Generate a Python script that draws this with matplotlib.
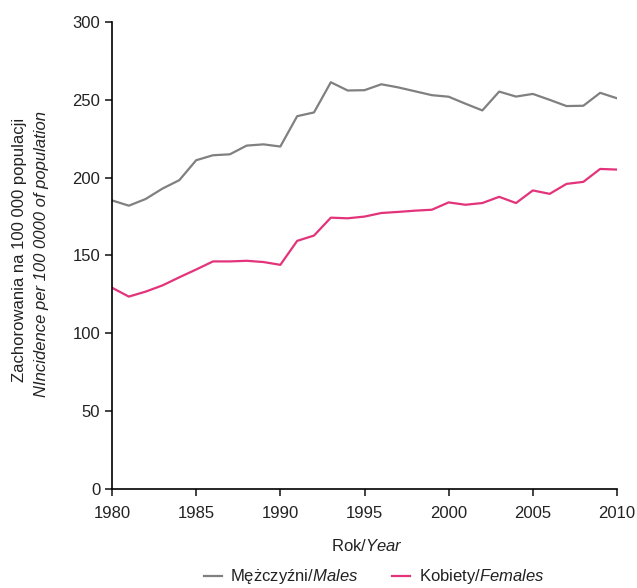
import numpy as np
from matplotlib import pyplot as plt
from matplotlib import rcParams

rcParams["font.family"] = ["Liberation Sans", "DejaVu Sans"]
rcParams["mathtext.fontset"] = "custom"
rcParams["mathtext.rm"] = "Liberation Sans"
rcParams["mathtext.it"] = "Liberation Sans:italic"
rcParams["font.size"] = 11

years = np.arange(1980, 2011)
males = [185.4, 182, 186.3, 193, 198.4, 211.2, 214.4, 215, 220.6, 221.4,
         220, 239.5, 241.9, 261.3, 256, 256.2, 260, 258, 255.5, 253,
         252, 247.5, 243.2, 255.3, 252.1, 253.8, 250, 246, 246.2, 254.5,
         251]
females = [129.3, 123.6, 126.8, 130.8, 136, 141, 146.2, 146.2, 146.6, 145.8,
           144, 159.4, 162.8, 174.3, 173.9, 175, 177.3, 178, 178.8, 179.4,
           184.1, 182.6, 183.7, 187.7, 183.7, 191.8, 189.6, 196, 197.3, 205.6,
           205.2]

fig = plt.figure(figsize=(6.37, 5.88), dpi=100)
ax = fig.add_axes([112 / 637, 1 - 489 / 588, 505 / 637, 467 / 588])

ax.plot(years, males, color="#808080", lw=1.6, label="Mężczyźni/$\\mathit{Males}$")
ax.plot(years, females, color="#e3337a", lw=1.6, label="Kobiety/$\\mathit{Females}$")

ax.set_xlim(1980, 2010)
ax.set_ylim(0, 300)
ax.set_xticks(np.arange(1980, 2011, 5))
ax.set_yticks(np.arange(0, 301, 50))
ax.spines[["top", "right"]].set_visible(False)
ax.spines[["left", "bottom"]].set_linewidth(1.2)
ax.tick_params(labelsize=12, length=5, width=1.2, color="#222222", labelcolor="#222222")
ax.tick_params(axis="x", pad=7)

# x label: regular "Rok/" followed by italic "Year"
fig.text(367 / 637, 1 - 546 / 588, "Rok/$\\mathit{Year}$", fontsize=12,
         ha="center", va="center", color="#222222")

# y label in two lines, second in italics
fig.text(20 / 637, 1 - 250 / 588, "Zachorowania na 100 000 populacji",
         rotation=90, fontsize=12, ha="center", va="center", color="#222222")
fig.text(42 / 637, 1 - 254 / 588, "NIncidence per 100 0000 of population",
         rotation=90, fontsize=12, ha="center", va="center", fontstyle="italic",
         color="#222222")

fig.legend(loc="center", bbox_to_anchor=(374 / 637, 1 - 577 / 588), ncol=2,
           frameon=False, fontsize=12, handlelength=1.1, handletextpad=0.5,
           columnspacing=2.0, labelcolor="#222222")

fig.savefig("out.png", dpi=100)
